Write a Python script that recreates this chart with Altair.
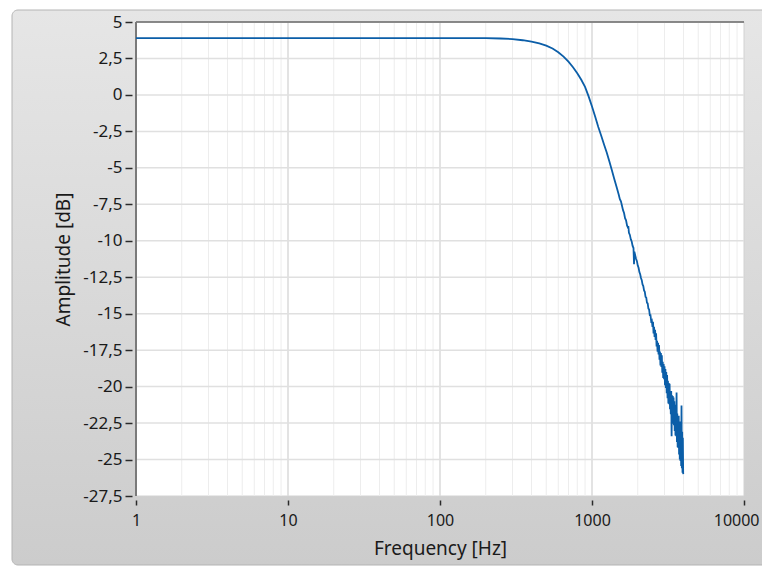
import altair as alt
import pandas as pd

# ---- data ----
freq = [1, 2, 5, 10, 20, 50, 100, 150, 200, 250, 300, 350, 400, 450, 500, 550, 600, 650,
        700, 750, 800, 850, 900, 950, 1000, 1050, 1100, 1150, 1200, 1250, 1300, 1350, 1400,
        1450, 1500, 1525, 1550, 1575, 1600, 1625, 1650, 1675, 1700, 1725, 1733, 1750, 1775,
        1800, 1825, 1850, 1875, 1890, 1900, 1925, 1950, 1975, 2000, 2025, 2050, 2075, 2100,
        2125, 2150, 2175, 2200, 2225, 2250, 2275, 2300, 2325, 2350, 2375, 2400, 2425, 2450,
        2475, 2500,
        2520, 2540, 2560, 2580, 2600, 2620, 2640, 2660, 2680, 2700, 2720, 2740, 2760, 2780,
        2800, 2820, 2840, 2860, 2880, 2900, 2920, 2940, 2960, 2980, 3000, 3020, 3040, 3060,
        3080, 3100, 3120, 3140, 3160, 3180, 3200, 3220, 3240, 3260, 3280, 3300, 3320, 3340,
        3360, 3380, 3400, 3420, 3440, 3460, 3480, 3500, 3520, 3540, 3560, 3580, 3600, 3620,
        3640, 3660, 3680, 3700, 3720, 3740, 3760, 3780, 3800, 3820, 3840, 3860, 3880, 3900,
        3920, 3940, 3960, 3980, 3990]
amplitude = [3.9, 3.9, 3.9, 3.9, 3.9, 3.9, 3.9, 3.9, 3.89, 3.87, 3.83, 3.75, 3.65, 3.53, 3.38,
             3.18, 2.93, 2.63, 2.28, 1.9, 1.48, 1.04, 0.55, -0.1, -0.8, -1.5, -2.2, -2.8, -3.4,
             -3.95, -4.55, -5.15, -5.75, -6.3, -6.85, -7.15, -7.3, -7.6, -7.9, -8.1, -8.45,
             -8.6, -8.95, -9.1, -9.0, -9.45, -9.6, -9.9, -10.05, -10.35, -10.5, -11.6, -10.75,
             -11.0, -11.25, -11.4, -11.7, -11.85, -12.15, -12.3, -12.55, -12.7, -13.0, -13.1,
             -13.4, -13.5, -13.85, -13.9, -14.25, -14.3, -14.65, -14.7, -15.1, -15.1, -15.5,
             -15.45, -15.9,
             -15.55, -16.35, -15.9, -16.6, -16.1, -16.8, -16.35, -17.25, -16.85, -17.6, -17.0,
             -17.8, -17.15, -18.15, -17.6, -18.55, -17.7, -18.65, -17.85, -19.05, -18.3, -19.4,
             -18.45, -19.5, -18.6, -19.9, -18.8, -20.1, -19.0, -20.45, -19.2, -20.8, -19.6,
             -21.15, -19.75, -21.2, -19.8, -21.55, -20.3, -21.9, -20.3, -23.4, -20.6, -22.3,
             -20.65, -22.55, -20.75, -22.65, -21.0, -23.05, -21.25, -23.35, -21.35, -23.4,
             -20.4, -23.8, -21.85, -24.15, -22.0, -24.2, -22.0, -24.65, -22.45, -25.0, -22.4,
             -25.1, -22.55, -25.45, -21.3, -25.6, -23.1, -25.9, -23.5, -25.95, -26.0]

x_tick_values = [1, 10, 100, 1000, 10000]
x_grid_minor = [2, 3, 4, 5, 6, 7, 8, 9, 20, 30, 40, 50, 60, 70, 80, 90,
                200, 300, 400, 500, 600, 700, 800, 900,
                2000, 3000, 4000, 5000, 6000, 7000, 8000, 9000]
x_grid_major = [10, 100, 1000]
y_tick_values = [5, 2.5, 0, -2.5, -5, -7.5, -10, -12.5, -15, -17.5, -20, -22.5, -25, -27.5]
y_grid_values = [2.5, 0, -2.5, -5, -7.5, -10, -12.5, -15, -17.5, -20, -22.5, -25]

W, H = 608, 474
PAD = {"left": 128, "top": 14, "right": 18, "bottom": 70}
FONT = "Noto Sans"

df = pd.DataFrame({"f": freq, "a": amplitude})
one = pd.DataFrame({"k": [0]})

xscale = alt.Scale(type="log", domain=[1, 10000], nice=False)
yscale = alt.Scale(domain=[-27.5, 5], nice=False, zero=False)

bg = alt.Chart(one).mark_rect(
    fill=alt.LinearGradient(
        gradient="linear", x1=0, y1=0, x2=0, y2=1,
        stops=[alt.GradientStop(offset=0, color="#e6e6e6"),
               alt.GradientStop(offset=1, color="#cccccc")]),
    stroke="#b4b4b4", strokeWidth=1, cornerRadius=6,
).encode(x=alt.value(-PAD["left"] + 4), x2=alt.value(W + PAD["right"] + 8),
         y=alt.value(-PAD["top"] + 2), y2=alt.value(H + PAD["bottom"] - 1))

plot_bg = alt.Chart(one).mark_rect(fill="white", stroke="#d2d2d2", strokeWidth=1).encode(
    x=alt.datum(1), x2=alt.datum(10000), y=alt.datum(5), y2=alt.datum(-27.5))

grid_minor = alt.Chart(pd.DataFrame({"gx": x_grid_minor})).mark_rule(
    color="#ededed", strokeWidth=1).encode(x="gx:Q")
grid_major = alt.Chart(pd.DataFrame({"gx": x_grid_major})).mark_rule(
    color="#dadada", strokeWidth=1.5).encode(x="gx:Q")
grid_y = alt.Chart(pd.DataFrame({"gy": y_grid_values})).mark_rule(
    color="#e0e0e0", strokeWidth=1.5).encode(y="gy:Q")

top_border = alt.Chart(one).mark_rule(color="#6a6a6a", strokeWidth=1.5).encode(y=alt.datum(5))
left_border = alt.Chart(one).mark_rule(color="#7a7a7a", strokeWidth=2).encode(x=alt.datum(1))

last_label = "datum.value >= 10000"

line = alt.Chart(df).mark_line(color="#0b5ea8", strokeWidth=1.8, clip=True).encode(
    x=alt.X("f:Q", scale=xscale, title="Frequency [Hz]",
            axis=alt.Axis(values=x_tick_values, tickCount=20, labelExpr="toString(datum.value)",
                          grid=False, domain=False, offset=4, tickSize=5, tickWidth=1.5,
                          tickColor="#2a2a2a", labelFontSize=16, labelColor="#1a1a1a",
                          labelPadding=7, labelFont=FONT, titleFont=FONT, titleFontSize=19,
                          titleFontWeight="normal", titleColor="#1a1a1a", titlePadding=11,
                          zindex=1, labelFlush=False, labelOverlap=False,
                          labelAlign={"condition": {"test": last_label, "value": "right"},
                                      "value": "center"},
                          labelOffset={"condition": {"test": last_label, "value": 15},
                                       "value": 0})),
    y=alt.Y("a:Q", scale=yscale, title="Amplitude [dB]",
            axis=alt.Axis(values=y_tick_values, tickCount=30,
                          labelExpr="replace(toString(datum.value), '.', ',')",
                          grid=False, domain=False, offset=4, tickSize=7, tickWidth=1.5,
                          tickColor="#2a2a2a", labelFontSize=17, labelColor="#1a1a1a",
                          labelPadding=3, labelFont=FONT, titleFont=FONT, titleFontSize=19,
                          titleFontWeight="normal", titleColor="#1a1a1a", titlePadding=9,
                          zindex=1, labelFlush=False, labelOverlap=False)),
)

chart = alt.layer(bg, plot_bg, grid_minor, grid_major, grid_y, top_border, left_border, line).properties(
    width=W, height=H, padding=PAD, autosize=alt.AutoSizeParams(type="none"),
    background="white",
).configure_view(strokeWidth=0)

chart.save("out.html", embed_options={"renderer": "svg", "actions": False})
